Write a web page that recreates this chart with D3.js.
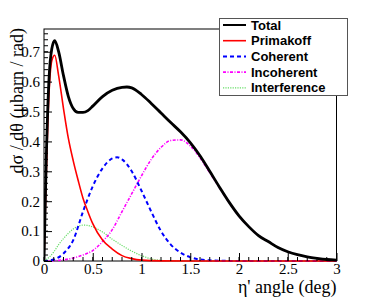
<!DOCTYPE html>
<html><head><meta charset="utf-8">
<script src="https://cdn.jsdelivr.net/npm/d3@7"></script>
<style>body{margin:0;background:#fff}svg{display:block}</style>
</head><body>
<script>
// Data (angle in degrees, dσ/dθ in μbarn/rad)
const totalX = [0,0.02,0.05,0.08,0.11,0.15,0.2,0.25,0.3,0.35,0.4,0.45,0.5,0.6,0.7,0.8,0.85,0.9,1.0,1.1,1.2,1.3,1.4,1.5,1.6,1.7,1.8,1.9,2.0,2.1,2.2,2.3,2.4,2.5,2.6,2.7,2.8,2.9,3.0];
const totalY = [0,0.30,0.60,0.71,0.737,0.70,0.62,0.55,0.51,0.497,0.497,0.503,0.518,0.55,0.571,0.581,0.582,0.579,0.557,0.527,0.495,0.463,0.432,0.396,0.352,0.300,0.247,0.196,0.151,0.115,0.085,0.065,0.045,0.031,0.021,0.014,0.009,0.005,0.003];
const primX = [0,0.02,0.05,0.08,0.11,0.15,0.2,0.25,0.3,0.35,0.4,0.45,0.5,0.6,0.7,0.8,0.9,1.0,1.2,1.5,3.0];
const primY = [0,0.25,0.55,0.67,0.688,0.62,0.51,0.41,0.335,0.27,0.21,0.165,0.125,0.07,0.04,0.018,0.008,0.003,0.0005,0,0];
const cohX = [0,0.1,0.2,0.3,0.4,0.5,0.6,0.7,0.75,0.8,0.9,1.0,1.1,1.2,1.3,1.4,1.5,1.6,1.8,2.0,3.0];
const cohY = [0,0.005,0.025,0.07,0.165,0.25,0.31,0.343,0.347,0.34,0.30,0.235,0.165,0.10,0.055,0.028,0.013,0.005,0.001,0,0];
const incX = [0,0.1,0.2,0.3,0.4,0.5,0.6,0.7,0.8,0.9,1.0,1.1,1.2,1.3,1.4,1.5,1.6,1.7,1.8,1.9,2.0,2.1,2.2,2.3,2.4,2.5,2.6,2.7,2.8,2.9,3.0];
const incY = [0,0.001,0.004,0.01,0.02,0.035,0.065,0.105,0.165,0.225,0.285,0.34,0.38,0.403,0.405,0.385,0.345,0.295,0.245,0.195,0.15,0.115,0.085,0.065,0.045,0.031,0.021,0.014,0.009,0.005,0.003];
const intX = [0,0.05,0.1,0.15,0.2,0.25,0.3,0.35,0.4,0.45,0.5,0.6,0.7,0.8,0.9,1.0,1.1,1.2,1.3,3.0];
const intY = [0,0.012,0.03,0.055,0.075,0.093,0.107,0.116,0.12,0.119,0.114,0.097,0.073,0.052,0.033,0.018,0.007,0.002,0,0];
const seriesNames = ["Total","Primakoff","Coherent","Incoherent","Interference"];
const xTicks = [0,0.5,1,1.5,2,2.5,3];
const yTicks = [0,0.1,0.2,0.3,0.4,0.5,0.6,0.7];

const SERIF = "'Liberation Serif'";
const SANS = "'Liberation Sans'";
const W = 374, H = 297;
const L = 44, R = 336.5, T = 29, B = 261;
const svg = d3.select("body").append("svg").attr("width", W).attr("height", H);
const x = d3.scaleLinear().domain([0,3]).range([L,R]);
const y = d3.scaleLinear().domain([0,0.776]).range([B,T]);

const styles = [
  {c:"#000000", w:2.8, d:null},
  {c:"#ff0000", w:1.6, d:null},
  {c:"#0000ff", w:2.0, d:"4,3"},
  {c:"#ff00ff", w:1.6, d:"3,1.5,1,1.5"},
  {c:"#66dd66", w:1.2, d:"1.2,1.2"}
];
const data = [
  [totalX,totalY],[primX,primY],[cohX,cohY],[incX,incY],[intX,intY]
];

// frame
svg.append("rect").attr("x",L).attr("y",T).attr("width",R-L).attr("height",B-T)
  .attr("fill","none").attr("stroke","#000").attr("stroke-width",1);

// curves
const line = d3.line().x(d=>x(d[0])).y(d=>y(d[1])).curve(d3.curveMonotoneX);
svg.append("clipPath").attr("id","c").append("rect").attr("x",L).attr("y",T).attr("width",R-L+1).attr("height",B-T+1);
[4,3,2,1,0].forEach(i=>{
  const pts = data[i][0].map((v,k)=>[v,data[i][1][k]]);
  svg.append("path").attr("d",line(pts)).attr("fill","none")
    .attr("stroke",styles[i].c).attr("stroke-width",styles[i].w)
    .attr("stroke-dasharray",styles[i].d).attr("clip-path","url(#c)");
});

// axes (ticks inside)
const xAxis = d3.axisBottom(x).tickValues(xTicks).tickSize(-8).tickPadding(3).tickFormat(d3.format("~g"));
const gx = svg.append("g").attr("transform",`translate(0,${B})`).call(xAxis);
gx.selectAll(".minor").data(d3.range(0,3.0001,0.1)).enter().append("line")
  .attr("x1",d=>x(d)).attr("x2",d=>x(d)).attr("y1",0).attr("y2",-4).attr("stroke","#000");
const yAxis = d3.axisLeft(y).tickValues(yTicks).tickSize(-8).tickPadding(4).tickFormat(d3.format("~g"));
const gy = svg.append("g").attr("transform",`translate(${L},0)`).call(yAxis);
gy.selectAll(".minor").data(d3.range(0,0.7601,0.02)).enter().append("line")
  .attr("x1",0).attr("x2",4).attr("y1",d=>y(d)).attr("y2",d=>y(d)).attr("stroke","#000");
[gx,gy].forEach(g=>{
  g.select(".domain").remove();
  g.selectAll("text").style("font-family",SERIF).style("font-size","15px").attr("fill","#000");
  g.selectAll(".tick line").attr("stroke","#000");
});
gx.selectAll(".tick text").attr("dy","0.71em").attr("y",2);

// axis titles
svg.append("text").attr("x",R).attr("y",293).attr("text-anchor","end")
  .style("font-family",SERIF).style("font-size","18px").text("η' angle (deg)");
svg.append("text").attr("transform",`translate(23,${T-1}) rotate(-90)`).attr("text-anchor","end")
  .style("font-family",SERIF).style("font-size","18px").text("dσ / dθ (μbarn / rad)");

// legend
const lg = svg.append("g");
lg.append("rect").attr("x",219.5).attr("y",18.5).attr("width",128).attr("height",77)
  .attr("fill","#fff").attr("stroke","#555").attr("stroke-width",1);
seriesNames.forEach((n,i)=>{
  const yy = 25 + i*15.7;
  lg.append("line").attr("x1",223).attr("x2",246).attr("y1",yy).attr("y2",yy)
    .attr("stroke",styles[i].c).attr("stroke-width",Math.min(styles[i].w,2))
    .attr("stroke-dasharray",styles[i].d);
  lg.append("text").attr("x",251).attr("y",yy).attr("dy","0.36em")
    .style("font-family",SANS).style("font-weight","bold")
    .style("font-size","13px").text(n);
});
</script>
</body></html>
